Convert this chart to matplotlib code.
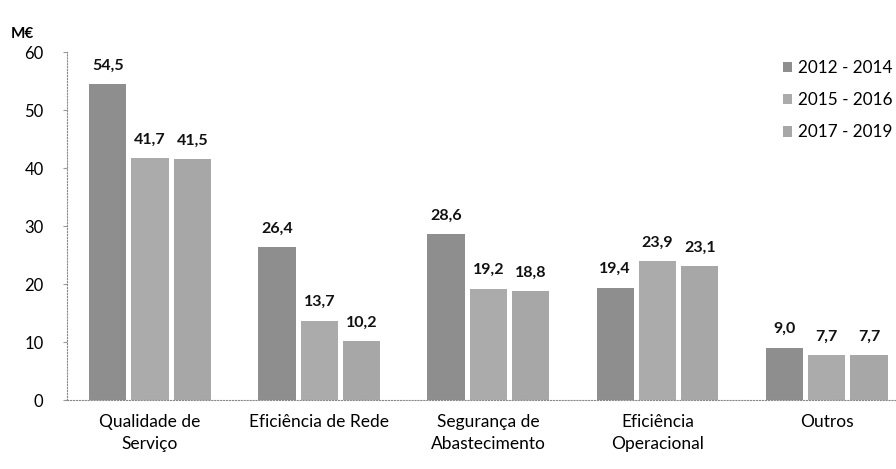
import numpy as np
import matplotlib.pyplot as plt

plt.rcParams['font.family'] = ['Lato', 'DejaVu Sans']

# dados do gráfico
categorias = ['Qualidade de\nServiço', 'Eficiência de Rede', 'Segurança de\nAbastecimento',
              'Eficiência\nOperacional', 'Outros']
periodos = ['2012 - 2014', '2015 - 2016', '2017 - 2019']
v_2012_2014 = [54.5, 26.4, 28.6, 19.4, 9.0]
v_2015_2016 = [41.7, 13.7, 19.2, 23.9, 7.7]
v_2017_2019 = [41.5, 10.2, 18.8, 23.1, 7.7]
y_ticks = [0, 10, 20, 30, 40, 50, 60]

cores = ['#8e8e8e', '#ababab', '#a7a7a7']
series = [v_2012_2014, v_2015_2016, v_2017_2019]

fig = plt.figure(figsize=(8.96, 4.69), dpi=100)
ax = fig.add_axes([0.075, 0.147, 0.925, 0.742])

x = np.arange(len(categorias))
largura = 0.22
passo = 0.25

for i, (vals, cor) in enumerate(zip(series, cores)):
    ax.bar(x + (i - 1) * passo, vals, largura, color=cor, label=periodos[i])
    for xi, v in zip(x + (i - 1) * passo, vals):
        ax.text(xi, v + 2.0, f'{v:.1f}'.replace('.', ','), ha='center', va='bottom',
                fontsize=11.5, fontweight='bold', color='#111111')

ax.set_xlim(-0.49, 4.41)
ax.set_ylim(0, 60)
ax.set_yticks(y_ticks)
ax.set_yticklabels([str(t) for t in y_ticks], fontsize=12)
ax.set_xticks(x)
ax.set_xticklabels(categorias, fontsize=12.5, linespacing=1.45, va='top')
ax.tick_params(axis='x', length=0, pad=10)
ax.tick_params(axis='y', length=3, color='#999999', pad=14)

for s in ['top', 'right']:
    ax.spines[s].set_visible(False)
ax.spines['left'].set_linestyle(':')
ax.spines['left'].set_color('#888888')
ax.spines['bottom'].set_linestyle(':')
ax.spines['bottom'].set_color('#888888')

fig.text(0.012, 0.918, 'M€', fontsize=11, fontweight='bold')

# legenda à direita
ax.legend(loc='upper left', bbox_to_anchor=(0.874, 0.872), bbox_transform=fig.transFigure,
          frameon=False, fontsize=12.3, handlelength=0.55, handleheight=0.55,
          handletextpad=0.3, labelspacing=0.95, borderpad=0, borderaxespad=0)

fig.savefig('out.png', dpi=100)
